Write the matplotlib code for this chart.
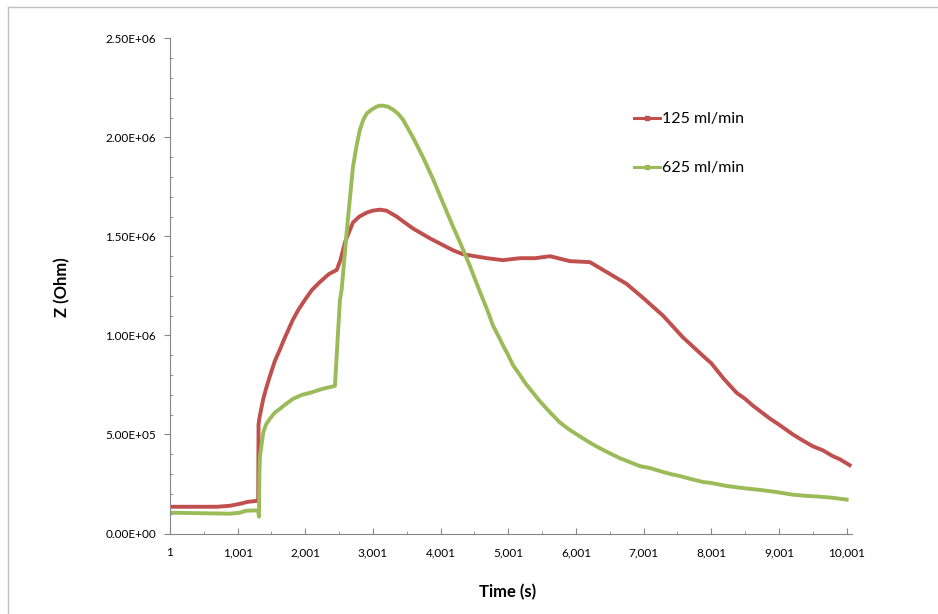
import numpy as np
import matplotlib
matplotlib.use("Agg")
import matplotlib.pyplot as plt
from matplotlib.ticker import FixedLocator, FuncFormatter, MultipleLocator
from matplotlib.lines import Line2D

plt.rcParams['font.family'] = ['Lato', 'DejaVu Sans']

# 125 ml/min (red)
t_125 = [1, 696, 888, 1035, 1154, 1294, 1305, 1310, 1321, 1350, 1380, 1420, 1479, 1550, 1627,
         1700, 1819, 1900, 1996, 2100, 2218, 2350, 2464, 2520, 2587, 2705, 2800, 2908, 3000,
         3104, 3200, 3351, 3450, 3592, 3843, 4183, 4331, 4681, 4922, 5173, 5400, 5617, 5912,
         6207, 6454, 6750, 6991, 7287, 7582, 7932, 8000, 8188, 8376, 8500, 8617, 8868, 9000,
         9207, 9350, 9503, 9650, 9799, 9900, 10070]
z_125 = [0.135, 0.135, 0.14, 0.15, 0.16, 0.165, 0.17, 0.55, 0.58, 0.63, 0.68, 0.73, 0.796, 0.87, 0.93,
         0.99, 1.08, 1.13, 1.18, 1.23, 1.27, 1.31, 1.33, 1.38, 1.47, 1.57, 1.60, 1.62, 1.63,
         1.635, 1.63, 1.60, 1.575, 1.54, 1.49, 1.43, 1.41, 1.39, 1.38, 1.39, 1.39, 1.40, 1.375,
         1.37, 1.32, 1.26, 1.19, 1.10, 0.99, 0.88, 0.86, 0.78, 0.71, 0.68, 0.645, 0.58, 0.55,
         0.50, 0.47, 0.44, 0.42, 0.39, 0.375, 0.34]

# 625 ml/min (green)
t_625 = [1, 888, 1035, 1124, 1301, 1316, 1323, 1331, 1380, 1420, 1479, 1550, 1627, 1700, 1819,
         1950, 2070, 2250, 2439, 2513, 2538, 2612, 2705, 2760, 2809, 2860, 2908, 2980, 3056,
         3100, 3149, 3220, 3297, 3370, 3444, 3592, 3740, 3888, 4035, 4183, 4287, 4434, 4582,
         4700, 4774, 4850, 4922, 5000, 5070, 5173, 5250, 5321, 5450, 5568, 5650, 5765, 5900,
         6060, 6200, 6356, 6500, 6652, 6800, 6947, 7100, 7243, 7400, 7538, 7700, 7878, 8000,
         8228, 8450, 8720, 8950, 9208, 9400, 9607, 9800, 10030]
z_625 = [0.105, 0.10, 0.105, 0.115, 0.117, 0.085, 0.30, 0.39, 0.51, 0.55, 0.58, 0.61, 0.63, 0.65, 0.68,
         0.70, 0.71, 0.73, 0.745, 1.18, 1.23, 1.52, 1.85, 1.96, 2.04, 2.09, 2.12, 2.14, 2.155,
         2.16, 2.16, 2.155, 2.14, 2.12, 2.09, 2.00, 1.90, 1.79, 1.67, 1.55, 1.47, 1.35, 1.22,
         1.12, 1.05, 1.00, 0.95, 0.90, 0.85, 0.80, 0.76, 0.73, 0.675, 0.63, 0.60, 0.56, 0.525,
         0.49, 0.46, 0.43, 0.405, 0.38, 0.36, 0.34, 0.33, 0.315, 0.30, 0.29, 0.275, 0.26, 0.255,
         0.24, 0.23, 0.22, 0.21, 0.196, 0.19, 0.186, 0.18, 0.17]

x_ticks = [1, 1001, 2001, 3001, 4001, 5001, 6001, 7001, 8001, 9001, 10001]
labels = ['125 ml/min', '625 ml/min']
colors = ['#C0504D', '#9BBB59']

fig = plt.figure(figsize=(9.38, 6.14), dpi=100)
ax = fig.add_axes([0.1812, 0.1311, 0.7271, 0.8065])

ax.plot(t_125, np.array(z_125) * 1e6, color=colors[0], lw=2.8, solid_capstyle='butt')
ax.plot(t_625, np.array(z_625) * 1e6, color=colors[1], lw=2.8, solid_capstyle='butt')

ax.set_xlim(1, 10080)
ax.set_ylim(0, 2.5e6)

ax.xaxis.set_major_locator(FixedLocator(x_ticks))
ax.xaxis.set_minor_locator(FixedLocator([v + 500 for v in x_ticks[:-1]]))
ax.xaxis.set_major_formatter(FuncFormatter(lambda v, p: f"{int(round(v)):,}"))
ax.yaxis.set_major_locator(MultipleLocator(5e5))
ax.yaxis.set_minor_locator(MultipleLocator(1e5))
ax.yaxis.set_major_formatter(FuncFormatter(lambda v, p: f"{v:.2E}"))

for s in ['top', 'right']:
    ax.spines[s].set_visible(False)
for s in ['left', 'bottom']:
    ax.spines[s].set_color('#868686')

ax.tick_params(axis='x', which='major', direction='in', length=4, color='#868686', labelsize=8.5, pad=10)
ax.tick_params(axis='x', which='minor', direction='in', length=2.5, color='#868686')
ax.tick_params(axis='y', which='major', direction='out', length=4, color='#868686', labelsize=8.5, pad=6)
ax.tick_params(axis='y', which='minor', direction='in', length=2.5, color='#868686')

fig.text(508 / 938, 1 - 592 / 614, 'Time (s)', ha='center', va='center', fontsize=12, fontweight='bold')
fig.text(62 / 938, 1 - 287 / 614, 'Z (Ohm)', ha='center', va='center', rotation=90, fontsize=12, fontweight='bold')

handles = [Line2D([], [], color=c, lw=2.2, marker='s', markersize=2.5) for c in colors]
ax.legend(handles, labels, loc='upper left', bbox_to_anchor=(626 / 938, 1 - 104 / 614),
          bbox_transform=fig.transFigure, frameon=False, fontsize=11.5,
          handlelength=1.6, handletextpad=0.15, labelspacing=2.2, borderpad=0)

# chart area border
fig.add_artist(Line2D([8 / 938, 8 / 938], [0, 1 - 7 / 614], transform=fig.transFigure, color='#BFBFBF', lw=1))
fig.add_artist(Line2D([8 / 938, 1], [1 - 7 / 614, 1 - 7 / 614], transform=fig.transFigure, color='#BFBFBF', lw=1))

fig.savefig('out.png', dpi=100)
